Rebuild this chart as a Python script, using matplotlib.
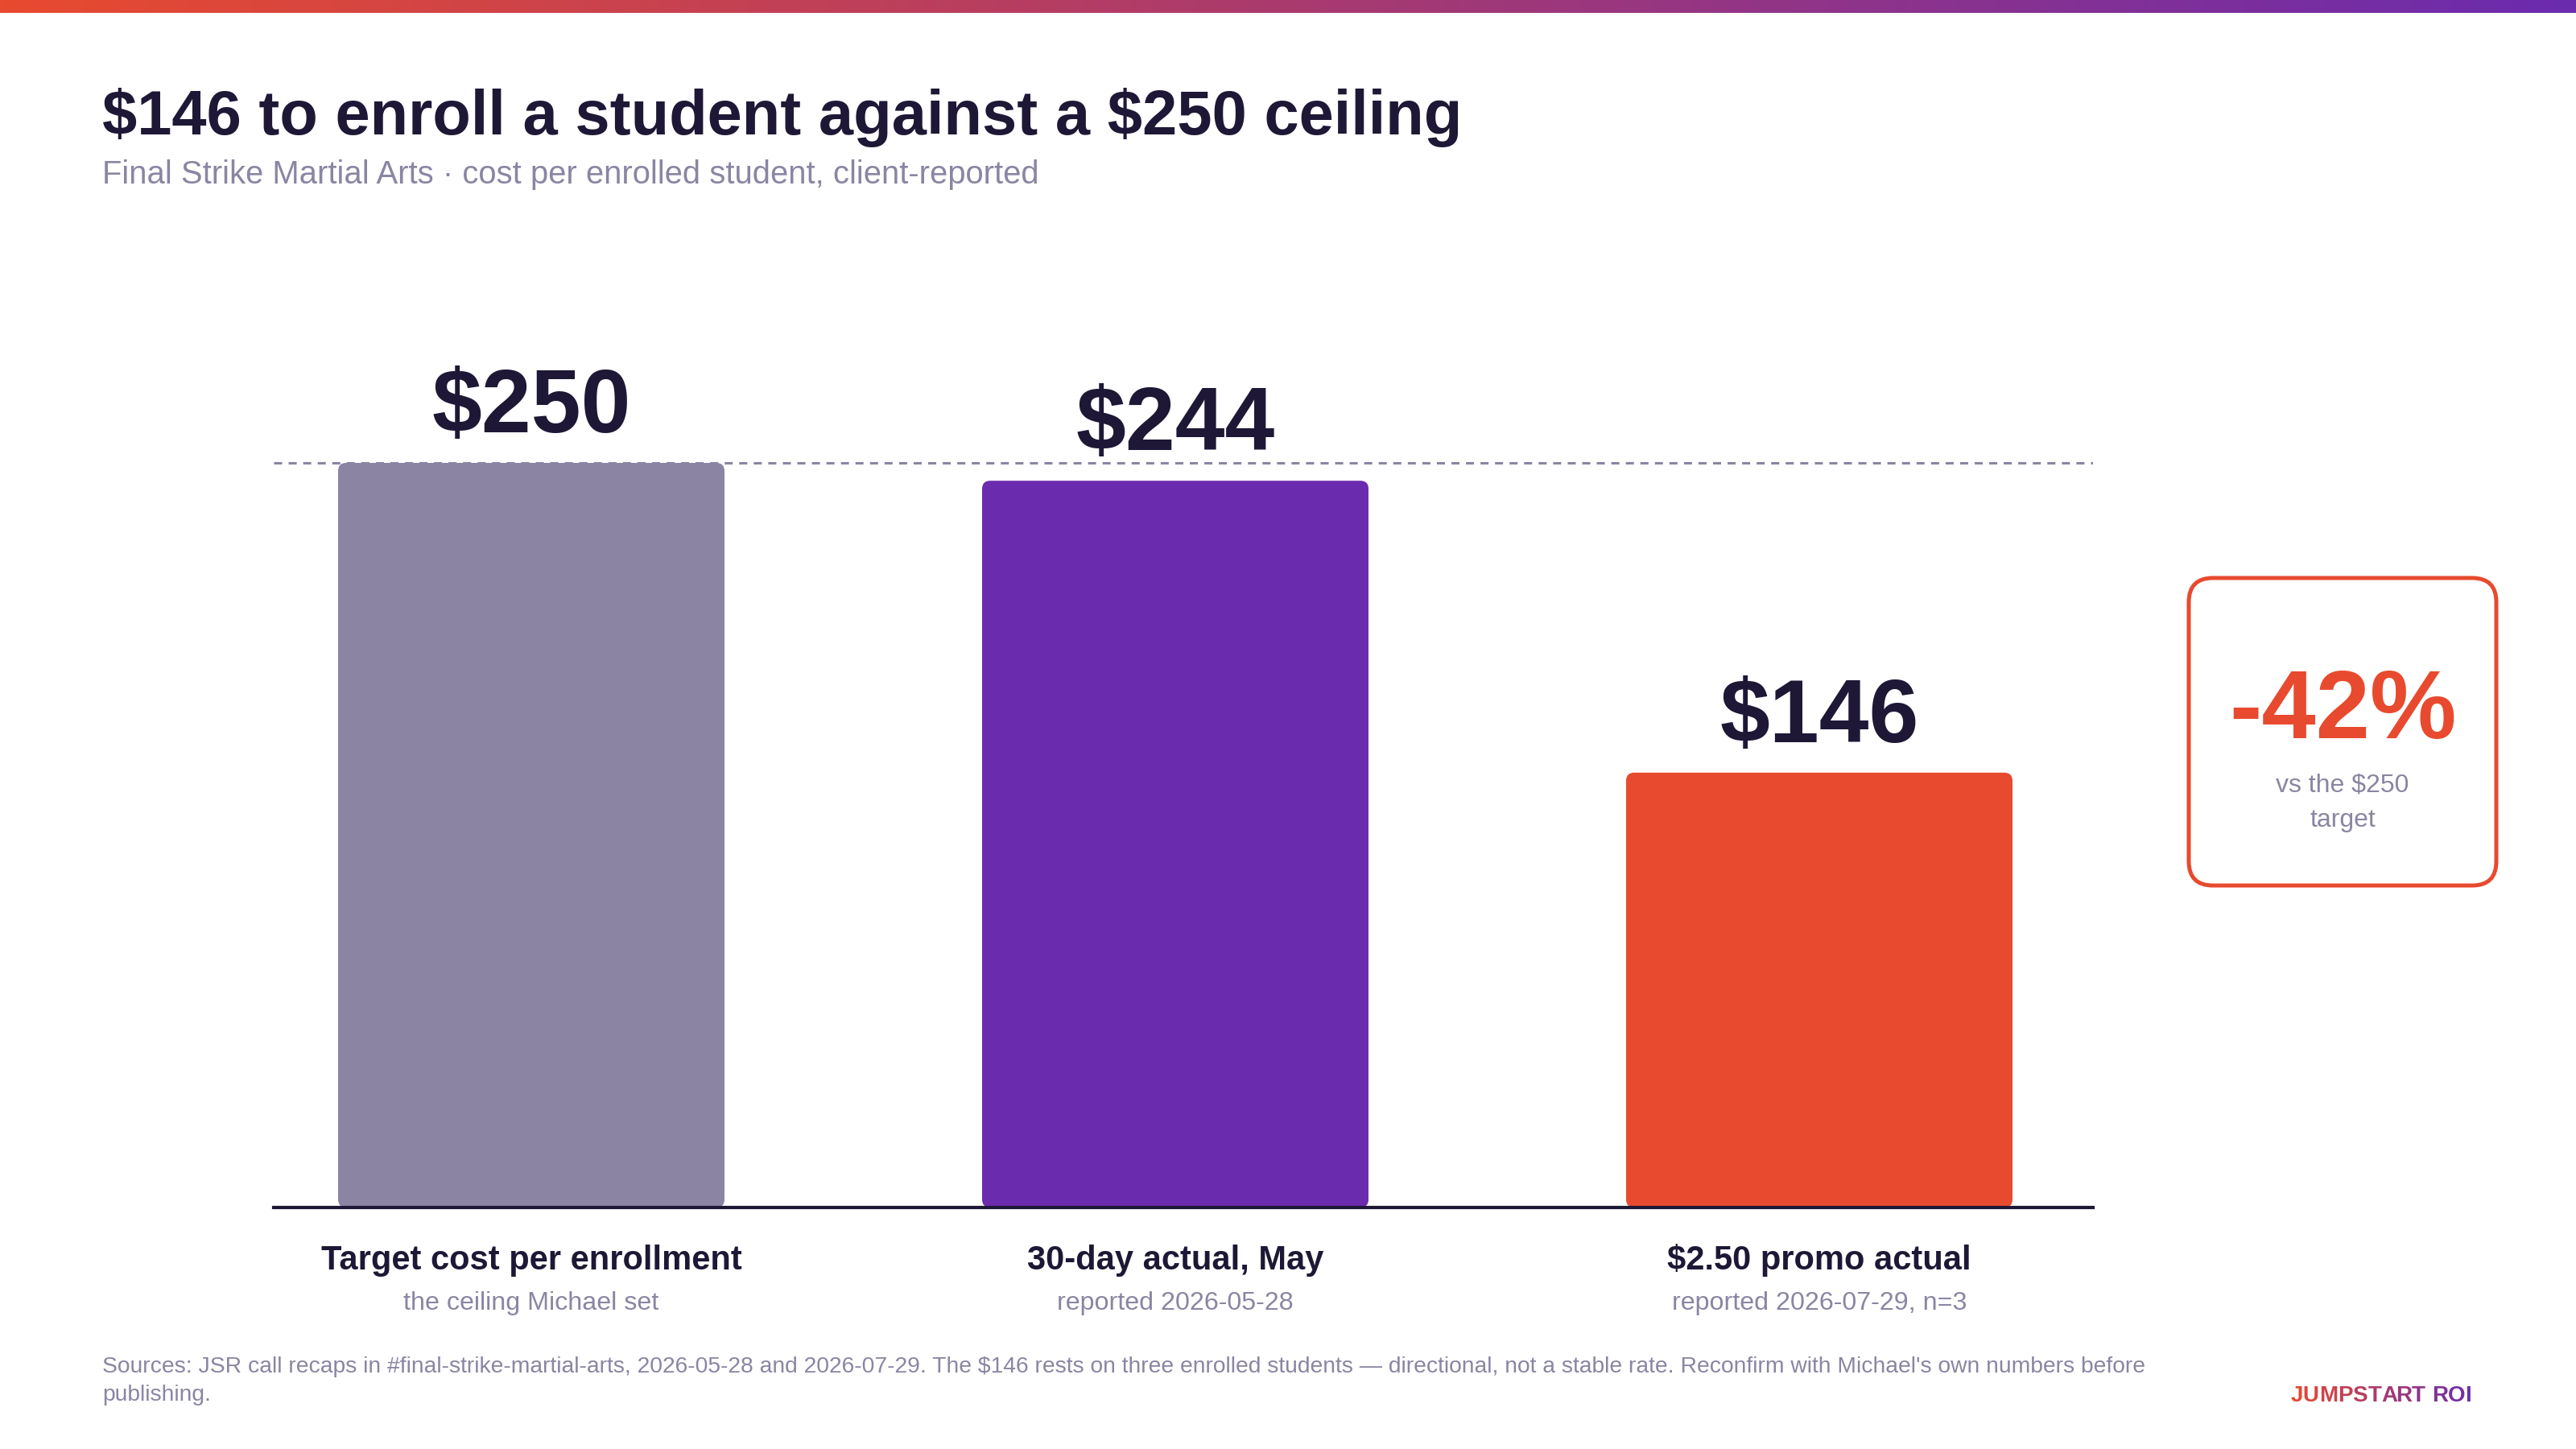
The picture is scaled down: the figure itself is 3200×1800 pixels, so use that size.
import matplotlib
matplotlib.use("Agg")
import matplotlib.pyplot as plt
import numpy as np
from matplotlib.patches import FancyBboxPatch
from matplotlib.colors import to_rgb
from matplotlib.font_manager import FontProperties

# ---------------- data ----------------
categories = ["Target cost per enrollment", "30-day actual, May", "$2.50 promo actual"]
sublabels = ["the ceiling Michael set", "reported 2026-05-28", "reported 2026-07-29, n=3"]
values = [250, 244, 146]
value_labels = ["$250", "$244", "$146"]
target = 250
callout_value = "-42%"
callout_lines = ["vs the $250", "target"]
title = "$146 to enroll a student against a $250 ceiling"
subtitle = "Final Strike Martial Arts \u00b7 cost per enrolled student, client-reported"
footer_lines = [
    "Sources: JSR call recaps in #final-strike-martial-arts, 2026-05-28 and 2026-07-29. The $146 rests on three enrolled students \u2014 directional, not a stable rate. Reconfirm with Michael's own numbers before",
    "publishing.",
]
brand = "JUMPSTART ROI"

# ---------------- style ----------------
plt.rcParams["text.parse_math"] = False
plt.rcParams["font.family"] = ["Liberation Sans", "DejaVu Sans"]
plt.rcParams["lines.scale_dashes"] = False

DARK = "#1E1836"
GREY = "#8B85A3"
PURPLE = "#6B2BAE"
RED = "#E84A2F"
bar_colors = [GREY, PURPLE, RED]

PXW, PXH, DPI = 3200, 1800, 200
fig = plt.figure(figsize=(PXW / DPI, PXH / DPI), dpi=DPI, facecolor="white")


def fx(px):
    return px / PXW


def fy(py):
    return 1 - py / PXH


# top gradient strip
gax = fig.add_axes([0, fy(16), 1, 16 / PXH])
c0, c1 = np.array(to_rgb(RED)), np.array(to_rgb(PURPLE))
t = np.linspace(0, 1, 512)[None, :, None]
grad = c0 * (1 - t) + c1 * t
gax.imshow(grad, aspect="auto", extent=(0, 1, 0, 1))
gax.set_axis_off()

# titles
fig.text(fx(127), fy(167), title, fontsize=28, weight="bold", color=DARK, va="baseline", ha="left")
fig.text(fx(127), fy(228), subtitle, fontsize=14.4, color=GREY, va="baseline", ha="left")

# main axes
ax_left, ax_right, ax_base, px_per_unit = 340, 2600, 1500, 3.7
ymax = 300
ax = fig.add_axes([fx(ax_left), 1 - ax_base / PXH, (ax_right - ax_left) / PXW, ymax * px_per_unit / PXH])
ax.set_xlim(-0.4, 2.425)
ax.set_ylim(0, ymax)
for s in ["top", "right", "left"]:
    ax.spines[s].set_visible(False)
ax.spines["bottom"].set_color(DARK)
ax.spines["bottom"].set_linewidth(1.5)
ax.spines["bottom"].set_zorder(5)
ax.set_xticks([])
ax.set_yticks([])
ax.patch.set_alpha(0)

bar_w = 0.6
x_unit_px = (ax_right - ax_left) / 2.825
r_px = 10
r_x = r_px / x_unit_px
m_aspect = (r_px / px_per_unit) / r_x
for i, (v, c) in enumerate(zip(values, bar_colors)):
    p = FancyBboxPatch((i - bar_w / 2, 0), bar_w, v,
                       boxstyle=f"round,pad=0,rounding_size={r_x}",
                       mutation_aspect=m_aspect, facecolor=c, edgecolor="none", zorder=2)
    ax.add_patch(p)
    ax.annotate(value_labels[i], (i, v), xytext=(0, 38 * 72 / DPI), textcoords="offset points",
                ha="center", va="baseline", fontsize=40, weight="bold", color=DARK)
    ax.annotate(categories[i], (i, 0), xytext=(0, -77 * 72 / DPI), textcoords="offset points",
                ha="center", va="baseline", fontsize=15, weight="bold", color=DARK, annotation_clip=False)
    ax.annotate(sublabels[i], (i, 0), xytext=(0, -127 * 72 / DPI), textcoords="offset points",
                ha="center", va="baseline", fontsize=11.6, color=GREY, annotation_clip=False)

ax.axhline(target, color=GREY, lw=1.1, dashes=(3.6, 2.9), zorder=3)

# callout box
bx0, bx1, by0, by1 = 2719, 3101, 718, 1100
r_fig = 30 / PXW
box = FancyBboxPatch((fx(bx0), fy(by1)), (bx1 - bx0) / PXW, (by1 - by0) / PXH,
                     boxstyle=f"round,pad=0,rounding_size={r_fig}", mutation_aspect=PXW / PXH,
                     transform=fig.transFigure, facecolor="white", edgecolor=RED, lw=1.8)
fig.add_artist(box)
cx = (bx0 + bx1) / 2
fig.text(fx(cx), fy(917), callout_value, fontsize=43.5, weight="bold", color=RED, ha="center", va="baseline")
fig.text(fx(cx), fy(983), callout_lines[0], fontsize=11.5, color=GREY, ha="center", va="baseline")
fig.text(fx(cx), fy(1027), callout_lines[1], fontsize=11.5, color=GREY, ha="center", va="baseline")

# footer
fig.text(fx(127), fy(1705), footer_lines[0], fontsize=10.2, color=GREY, ha="left", va="baseline")
fig.text(fx(127), fy(1740), footer_lines[1], fontsize=10.2, color=GREY, ha="left", va="baseline")

# brand with per-letter gradient
renderer = fig.canvas.get_renderer()
fp = FontProperties(family=["Liberation Sans", "DejaVu Sans"], weight="bold", size=10)


def text_w(s):
    w, h, d = renderer.get_text_width_height_descent(s, fp, ismath=False)
    return w


total = text_w(brand)
ref = text_w("x")
right_px = 3070
start = right_px - total
for k, ch in enumerate(brand):
    off = text_w(brand[:k] + "x") - ref if k > 0 else 0
    chw = text_w(brand[:k + 1] + "x") - ref - off
    frac = (off + chw / 2) / total
    col = c0 * (1 - frac) + c1 * frac
    fig.text(fx(start + off), fy(1741), ch, fontproperties=fp, color=col, ha="left", va="baseline")

fig.savefig("out.png", dpi=DPI, facecolor="white")
